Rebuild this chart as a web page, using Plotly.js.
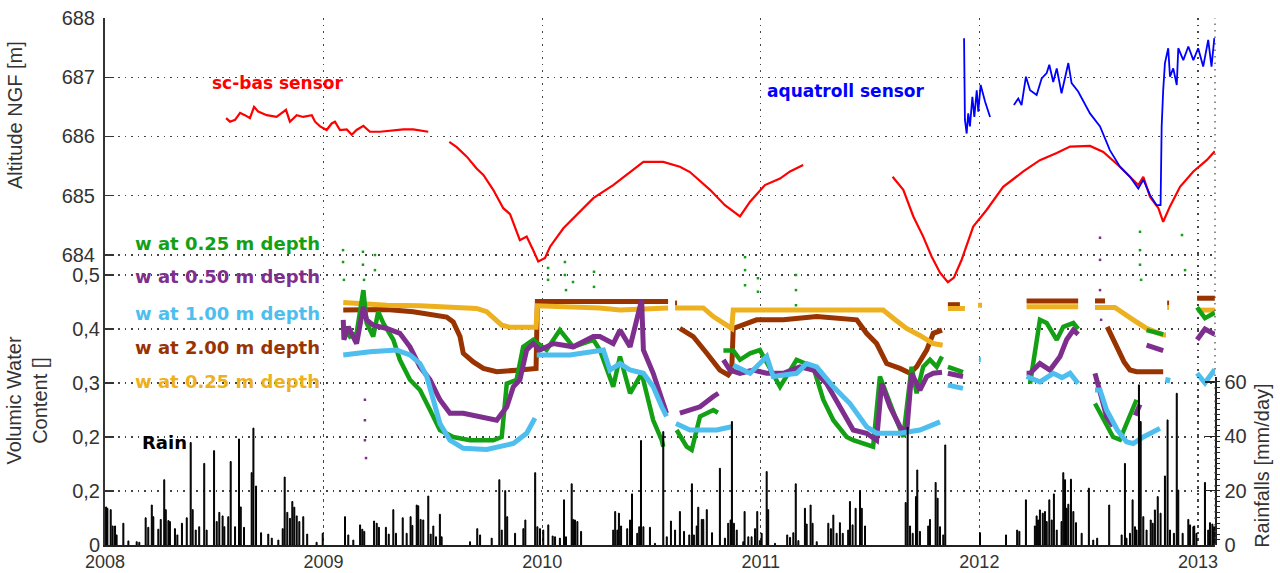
<!DOCTYPE html>
<html>
<head>
<meta charset="utf-8">
<script src="https://cdn.plot.ly/plotly-3.0.1.min.js"></script>
<style>
  html, body { margin: 0; padding: 0; background: #fff; }
  #chart { width: 1280px; height: 573px; }
</style>
</head>
<body>
<div id="chart"></div>
<script>
// ---- Groundwater altitude (m NGF), [decimal year, altitude]; null = no record ----
const scBasSensor = [
  [2008.554, 686.31], [2008.572, 686.25], [2008.595, 686.28], [2008.618, 686.40], [2008.640, 686.36],
  [2008.663, 686.31], [2008.682, 686.50], [2008.701, 686.42], [2008.740, 686.36], [2008.785, 686.33],
  [2008.828, 686.45], [2008.846, 686.25], [2008.877, 686.36], [2008.907, 686.33], [2008.946, 686.36],
  [2008.961, 686.25], [2008.984, 686.17], [2009.014, 686.11], [2009.037, 686.22], [2009.052, 686.25],
  [2009.075, 686.11], [2009.106, 686.12], [2009.129, 686.03], [2009.151, 686.11], [2009.182, 686.18],
  [2009.212, 686.08], [2009.258, 686.08], [2009.304, 686.10], [2009.365, 686.12], [2009.410, 686.12],
  [2009.456, 686.09], [2009.479, 686.08],
  null,
  [2009.575, 685.91], [2009.609, 685.82], [2009.655, 685.66], [2009.700, 685.46], [2009.731, 685.35],
  [2009.776, 685.10], [2009.822, 684.79], [2009.853, 684.69], [2009.898, 684.25], [2009.929, 684.31],
  [2009.959, 684.08], [2009.982, 683.89], [2010.013, 683.95], [2010.036, 684.14], [2010.097, 684.45],
  [2010.158, 684.68], [2010.234, 684.96], [2010.325, 685.18], [2010.409, 685.41], [2010.463, 685.57],
  [2010.554, 685.57], [2010.630, 685.49], [2010.676, 685.40], [2010.768, 685.10], [2010.836, 684.84],
  [2010.905, 684.65], [2010.951, 684.90], [2011.019, 685.18], [2011.088, 685.29], [2011.134, 685.41],
  [2011.194, 685.52],
  null,
  [2011.603, 685.32], [2011.652, 685.10], [2011.698, 684.65], [2011.743, 684.31], [2011.782, 683.97],
  [2011.820, 683.70], [2011.856, 683.54], [2011.884, 683.62], [2011.919, 683.92], [2011.972, 684.48],
  [2012.033, 684.76], [2012.109, 685.15], [2012.201, 685.41], [2012.277, 685.60], [2012.354, 685.72],
  [2012.415, 685.83], [2012.506, 685.84], [2012.567, 685.74], [2012.643, 685.49], [2012.704, 685.27],
  [2012.727, 685.18], [2012.750, 685.32], [2012.781, 684.98], [2012.819, 684.79], [2012.841, 684.56],
  [2012.872, 684.82], [2012.918, 685.15], [2012.979, 685.41], [2013.040, 685.60], [2013.077, 685.75]
];

const aquatrollSensor = [
  [2011.930, 687.66], [2011.931, 686.84], [2011.934, 686.28], [2011.942, 686.05], [2011.949, 686.39],
  [2011.957, 686.17], [2011.968, 686.67], [2011.977, 686.33], [2011.988, 686.78], [2011.995, 686.42],
  [2012.006, 686.87], [2012.026, 686.59], [2012.049, 686.33],
  null,
  [2012.158, 686.53], [2012.178, 686.64], [2012.193, 686.53], [2012.213, 687.01], [2012.232, 686.78],
  [2012.262, 686.70], [2012.285, 686.98], [2012.308, 687.07], [2012.320, 687.21], [2012.338, 686.92],
  [2012.354, 687.15], [2012.376, 686.73], [2012.407, 687.24], [2012.422, 686.90], [2012.452, 686.76],
  [2012.506, 686.39], [2012.552, 686.17], [2012.597, 685.77], [2012.643, 685.49], [2012.689, 685.32],
  [2012.727, 685.12], [2012.750, 685.27], [2012.781, 685.01], [2012.811, 684.84], [2012.829, 684.84],
  [2012.834, 686.17], [2012.841, 686.78], [2012.849, 687.24], [2012.864, 687.49], [2012.872, 687.01],
  [2012.887, 687.15], [2012.903, 686.87], [2012.910, 687.49], [2012.933, 687.29], [2012.956, 687.52],
  [2012.979, 687.29], [2013.001, 687.49], [2013.024, 687.18], [2013.047, 687.63], [2013.062, 687.18],
  [2013.075, 687.66]
];

// ---- Volumetric water content [-], [decimal year, value] ----
const vwcDepth025 = [
  [2009.090, 0.404], [2009.121, 0.386], [2009.151, 0.392], [2009.182, 0.472], [2009.197, 0.411],
  [2009.227, 0.386], [2009.250, 0.432], [2009.273, 0.411], [2009.319, 0.380], [2009.349, 0.343],
  [2009.395, 0.306], [2009.441, 0.287], [2009.487, 0.250], [2009.532, 0.213], [2009.593, 0.200],
  [2009.670, 0.194], [2009.776, 0.194], [2009.815, 0.200], [2009.838, 0.299], [2009.883, 0.306],
  [2009.913, 0.367], [2009.959, 0.380], [2010.020, 0.361], [2010.081, 0.398], [2010.142, 0.367],
  [2010.234, 0.380], [2010.264, 0.361], [2010.325, 0.293], [2010.356, 0.349], [2010.402, 0.281],
  [2010.455, 0.318], [2010.479, 0.280], [2010.508, 0.231], [2010.547, 0.194], [2010.554, 0.182],
  null,
  [2010.615, 0.213], [2010.661, 0.182], [2010.684, 0.176], [2010.722, 0.238], [2010.783, 0.250],
  [2010.804, 0.245],
  null,
  [2010.829, 0.360], [2010.874, 0.360], [2010.905, 0.343], [2010.951, 0.355], [2010.996, 0.361],
  [2011.057, 0.318], [2011.088, 0.293], [2011.164, 0.343], [2011.240, 0.330], [2011.286, 0.269],
  [2011.332, 0.231], [2011.393, 0.200], [2011.423, 0.194], [2011.514, 0.182], [2011.545, 0.312],
  [2011.621, 0.231], [2011.652, 0.200], [2011.690, 0.330], [2011.713, 0.281], [2011.743, 0.330],
  [2011.774, 0.343], [2011.805, 0.330], [2011.829, 0.349],
  null,
  [2011.856, 0.330], [2011.925, 0.320],
  null,
  [2012.232, 0.299], [2012.277, 0.417], [2012.308, 0.411], [2012.354, 0.380], [2012.384, 0.404],
  [2012.430, 0.411], [2012.452, 0.400],
  null,
  [2012.529, 0.262], [2012.582, 0.225], [2012.612, 0.200], [2012.643, 0.195], [2012.689, 0.238],
  [2012.719, 0.269],
  null,
  [2012.765, 0.398], [2012.841, 0.390],
  null,
  [2012.996, 0.440], [2013.032, 0.420], [2013.077, 0.430]
];

const vwcDepth050 = [
  [2009.090, 0.417], [2009.093, 0.380], [2009.113, 0.404], [2009.151, 0.373], [2009.182, 0.441],
  [2009.197, 0.417], [2009.227, 0.407], [2009.289, 0.401], [2009.349, 0.392], [2009.395, 0.367],
  [2009.441, 0.330], [2009.487, 0.306], [2009.532, 0.269], [2009.578, 0.244], [2009.639, 0.244],
  [2009.715, 0.238], [2009.792, 0.231], [2009.838, 0.256], [2009.868, 0.293], [2009.898, 0.306],
  [2009.929, 0.361], [2009.959, 0.373], [2009.990, 0.361], [2010.051, 0.373], [2010.142, 0.367],
  [2010.234, 0.386], [2010.264, 0.386], [2010.325, 0.373], [2010.356, 0.398], [2010.402, 0.367],
  [2010.455, 0.454], [2010.463, 0.361], [2010.508, 0.318], [2010.554, 0.262], [2010.569, 0.244],
  null,
  [2010.630, 0.244], [2010.722, 0.256], [2010.783, 0.275], [2010.806, 0.281],
  null,
  [2010.829, 0.343], [2010.859, 0.324], [2010.905, 0.318], [2010.966, 0.324], [2011.027, 0.318],
  [2011.103, 0.318], [2011.179, 0.330], [2011.240, 0.324], [2011.301, 0.299], [2011.362, 0.256],
  [2011.423, 0.213], [2011.484, 0.207], [2011.530, 0.194], [2011.553, 0.299], [2011.591, 0.256],
  [2011.637, 0.219], [2011.667, 0.207], [2011.690, 0.318], [2011.728, 0.287], [2011.759, 0.312],
  [2011.789, 0.318], [2011.829, 0.320],
  null,
  [2011.856, 0.318], [2011.925, 0.312],
  null,
  [2012.216, 0.318], [2012.232, 0.318], [2012.277, 0.336], [2012.323, 0.324], [2012.369, 0.349],
  [2012.399, 0.380], [2012.430, 0.398], [2012.452, 0.390],
  null,
  [2012.529, 0.318], [2012.552, 0.281], [2012.582, 0.238], [2012.611, 0.220],
  null,
  [2012.713, 0.240], [2012.735, 0.260],
  null,
  [2012.765, 0.370], [2012.841, 0.360],
  null,
  [2012.996, 0.380], [2013.032, 0.400], [2013.077, 0.390]
];

const vwcDepth100 = [
  [2009.090, 0.352], [2009.212, 0.358], [2009.334, 0.361], [2009.395, 0.352], [2009.441, 0.336],
  [2009.472, 0.312], [2009.502, 0.269], [2009.532, 0.225], [2009.578, 0.194], [2009.639, 0.179],
  [2009.746, 0.177], [2009.868, 0.188], [2009.929, 0.207], [2009.967, 0.235],
  null,
  [2009.975, 0.352], [2010.127, 0.352], [2010.280, 0.361], [2010.310, 0.324], [2010.356, 0.336],
  [2010.402, 0.324], [2010.463, 0.318], [2010.508, 0.293], [2010.547, 0.256], [2010.569, 0.238],
  null,
  [2010.612, 0.225], [2010.676, 0.213], [2010.798, 0.213], [2010.867, 0.219],
  null,
  [2010.874, 0.333], [2010.951, 0.318], [2011.027, 0.349], [2011.057, 0.312], [2011.164, 0.318],
  [2011.210, 0.336], [2011.256, 0.330], [2011.332, 0.293], [2011.408, 0.262], [2011.484, 0.219],
  [2011.530, 0.207], [2011.637, 0.207], [2011.728, 0.213], [2011.820, 0.228],
  null,
  [2011.856, 0.296], [2011.925, 0.290],
  null,
  [2011.998, 0.343], [2012.007, 0.343],
  null,
  [2012.216, 0.312], [2012.277, 0.302], [2012.338, 0.318], [2012.378, 0.310], [2012.415, 0.318],
  [2012.452, 0.299],
  null,
  [2012.529, 0.287], [2012.552, 0.287], [2012.582, 0.250], [2012.631, 0.213], [2012.673, 0.191],
  [2012.704, 0.188], [2012.750, 0.200], [2012.826, 0.216],
  null,
  [2012.859, 0.300], [2012.864, 0.310],
  null,
  [2012.996, 0.318], [2013.032, 0.300], [2013.077, 0.325]
];

const vwcDepth200 = [
  [2009.090, 0.435], [2009.289, 0.436], [2009.410, 0.432], [2009.487, 0.426], [2009.563, 0.422],
  [2009.593, 0.413], [2009.624, 0.386], [2009.639, 0.355], [2009.685, 0.339], [2009.731, 0.327],
  [2009.792, 0.321], [2009.898, 0.324], [2009.972, 0.327], [2009.978, 0.451], [2010.356, 0.451],
  [2010.576, 0.451],
  null,
  [2010.608, 0.448], [2010.617, 0.448],
  null,
  [2010.630, 0.401], [2010.691, 0.386], [2010.753, 0.355], [2010.813, 0.324], [2010.851, 0.315],
  [2010.867, 0.324], [2010.874, 0.401], [2010.981, 0.417], [2011.103, 0.417], [2011.256, 0.423],
  [2011.439, 0.417], [2011.484, 0.392], [2011.530, 0.373], [2011.576, 0.336], [2011.637, 0.327],
  [2011.683, 0.318], [2011.713, 0.330], [2011.759, 0.361], [2011.789, 0.392], [2011.829, 0.398],
  null,
  [2011.856, 0.445], [2011.911, 0.445],
  null,
  [2012.216, 0.452], [2012.452, 0.452],
  null,
  [2012.529, 0.452], [2012.575, 0.452],
  null,
  [2012.585, 0.404], [2012.631, 0.367], [2012.662, 0.339], [2012.689, 0.324], [2012.719, 0.321],
  [2012.841, 0.321],
  null,
  [2012.859, 0.448], [2012.868, 0.448],
  null,
  [2012.996, 0.457], [2013.077, 0.457]
];

const vwcDepth025b = [
  [2009.090, 0.449], [2009.289, 0.444], [2009.441, 0.443], [2009.592, 0.441], [2009.700, 0.438],
  [2009.746, 0.432], [2009.776, 0.420], [2009.815, 0.407], [2009.853, 0.403], [2009.959, 0.403],
  [2009.972, 0.403], [2009.978, 0.443], [2010.264, 0.439], [2010.356, 0.435], [2010.576, 0.439],
  null,
  [2010.608, 0.439], [2010.737, 0.439], [2010.783, 0.423], [2010.829, 0.411], [2010.867, 0.401],
  [2010.874, 0.435], [2011.560, 0.435], [2011.606, 0.420], [2011.667, 0.401], [2011.728, 0.388],
  [2011.789, 0.373], [2011.832, 0.370],
  null,
  [2011.856, 0.438], [2011.934, 0.438],
  null,
  [2011.994, 0.444], [2012.012, 0.444],
  null,
  [2012.216, 0.441], [2012.452, 0.441],
  null,
  [2012.529, 0.440], [2012.620, 0.440], [2012.704, 0.417], [2012.765, 0.401], [2012.841, 0.389],
  [2012.854, 0.389],
  null,
  [2012.859, 0.440], [2012.868, 0.440],
  null,
  [2012.996, 0.435], [2013.077, 0.435]
];

// isolated readings standing apart from the main records
const vwcDepth025Outliers = [
  [2009.089, 0.546], [2009.089, 0.524], [2009.093, 0.491], [2009.180, 0.543], [2009.180, 0.519],
  [2009.185, 0.491], [2009.235, 0.537], [2009.235, 0.509], [2010.027, 0.513], [2010.027, 0.491],
  [2010.104, 0.524], [2010.104, 0.500], [2010.109, 0.472], [2010.141, 0.487], [2010.237, 0.506],
  [2010.237, 0.478], [2010.928, 0.533], [2010.928, 0.509], [2010.928, 0.481], [2010.987, 0.494],
  [2010.987, 0.469], [2011.161, 0.500], [2011.161, 0.472], [2011.161, 0.444], [2012.735, 0.580],
  [2012.735, 0.546], [2012.735, 0.519], [2012.740, 0.491], [2012.927, 0.574], [2012.941, 0.509]
];
const vwcDepth050Outliers = [
  [2009.189, 0.269], [2009.189, 0.231], [2009.189, 0.194], [2009.194, 0.161],
  [2012.552, 0.569], [2012.552, 0.528], [2012.552, 0.472], [2012.557, 0.417]
];

// ---- Daily rainfall (mm/day), [decimal year, depth] ----
const rainfall = [
  [2008.005, 14], [2008.011, 13.5], [2008.026, 13], [2008.035, 7], [2008.046, 7], [2008.053, 3.7],
  [2008.084, 8], [2008.107, 1.5], [2008.145, 1.2], [2008.157, 1], [2008.186, 10], [2008.198, 6.5],
  [2008.214, 14.7], [2008.221, 10.4], [2008.244, 5.8], [2008.255, 9.4], [2008.271, 24], [2008.278, 13],
  [2008.290, 9], [2008.297, 8.6], [2008.320, 6], [2008.331, 3.7], [2008.352, 8], [2008.374, 10],
  [2008.392, 37.7], [2008.401, 13], [2008.415, 5.5], [2008.431, 6.7], [2008.454, 30], [2008.465, 5.5],
  [2008.499, 34.7], [2008.511, 8.6], [2008.523, 12], [2008.538, 10.7], [2008.546, 6.7], [2008.564, 10.4],
  [2008.575, 30.7], [2008.595, 6.7], [2008.613, 39], [2008.621, 14], [2008.636, 6.5], [2008.671, 26.6],
  [2008.679, 43], [2008.691, 21.7], [2008.714, 4.5], [2008.747, 4], [2008.763, 2.5], [2008.793, 1.8],
  [2008.813, 6], [2008.822, 25], [2008.834, 12], [2008.846, 9.8], [2008.857, 16], [2008.866, 13.9],
  [2008.877, 10.7], [2008.889, 8.6], [2008.907, 10.4], [2008.925, 4], [2008.968, 1], [2008.996, 4.3],
  [2009.098, 10.4], [2009.113, 3.7], [2009.136, 1.8], [2009.167, 7.4], [2009.177, 5.8], [2009.186, 5],
  [2009.231, 8.8], [2009.243, 8], [2009.253, 6.5], [2009.285, 6.5], [2009.298, 4], [2009.319, 13],
  [2009.331, 4.3], [2009.362, 10], [2009.380, 4.3], [2009.398, 10.4], [2009.406, 7.2], [2009.426, 14.7],
  [2009.433, 14.4], [2009.444, 9.4], [2009.456, 9.2], [2009.479, 18], [2009.490, 4], [2009.502, 7],
  [2009.514, 3], [2009.532, 11.3], [2009.540, 3], [2009.670, 1.2], [2009.703, 6], [2009.716, 3.7],
  [2009.769, 2.5], [2009.804, 24], [2009.815, 5.5], [2009.831, 20], [2009.840, 10.4], [2009.876, 4.3],
  [2009.914, 6], [2009.923, 9.2], [2009.968, 26.6], [2009.978, 6.7], [2009.990, 6], [2010.005, 5.5],
  [2010.028, 7.4], [2010.048, 3.3], [2010.059, 3], [2010.081, 2.5], [2010.100, 16.6], [2010.109, 3],
  [2010.135, 22.5], [2010.142, 9.4], [2010.150, 9.2], [2010.161, 8.6], [2010.178, 5], [2010.325, 5.5],
  [2010.334, 12.3], [2010.344, 5.5], [2010.351, 11.7], [2010.361, 7], [2010.389, 6], [2010.402, 9.2],
  [2010.411, 18.8], [2010.435, 4.3], [2010.444, 6.7], [2010.452, 38.4], [2010.463, 6.7], [2010.493, 6.5],
  [2010.516, 0.6], [2010.554, 41.7], [2010.570, 3], [2010.589, 8.8], [2010.608, 5.5], [2010.630, 12.3],
  [2010.649, 5], [2010.673, 3.7], [2010.685, 22.5], [2010.694, 3.7], [2010.707, 7], [2010.714, 13.9],
  [2010.730, 9.4], [2010.737, 9.4], [2010.753, 13], [2010.777, 4.5], [2010.813, 28.2], [2010.836, 2.5],
  [2010.851, 8], [2010.862, 9.2], [2010.868, 45.4], [2010.877, 8], [2010.890, 5.5], [2010.920, 1.2],
  [2010.926, 12.3], [2010.943, 3], [2010.958, 3], [2010.974, 6], [2010.984, 12.3], [2010.996, 1.6],
  [2011.004, 4.3], [2011.027, 27], [2011.034, 13], [2011.065, 0.6], [2011.121, 3.7], [2011.134, 2.8],
  [2011.149, 4.5], [2011.160, 22.5], [2011.172, 1.6], [2011.202, 13.5], [2011.210, 7.7], [2011.228, 14.7],
  [2011.237, 8], [2011.256, 1.2], [2011.309, 8], [2011.321, 6], [2011.332, 11], [2011.347, 4.3],
  [2011.362, 8.2], [2011.375, 4.3], [2011.400, 5.5], [2011.408, 16], [2011.420, 7.4], [2011.434, 13.5],
  [2011.454, 20], [2011.462, 13.5], [2011.477, 7], [2011.663, 15.6], [2011.672, 43.3], [2011.683, 7],
  [2011.695, 4.3], [2011.710, 17.8], [2011.716, 27.6], [2011.728, 5], [2011.766, 7], [2011.774, 9.4],
  [2011.800, 23], [2011.809, 17.2], [2011.820, 6.7], [2011.835, 3.7], [2011.844, 36.8], [2012.003, 4.5],
  [2012.122, 3.7], [2012.173, 5.5], [2012.183, 5], [2012.213, 16.6], [2012.254, 7], [2012.262, 10.7],
  [2012.269, 9.2], [2012.277, 12.9], [2012.290, 11.7], [2012.300, 12.3], [2012.308, 8.6], [2012.320, 16.6],
  [2012.331, 9.2], [2012.341, 18.8], [2012.354, 5.5], [2012.376, 8.6], [2012.384, 26.6], [2012.392, 24],
  [2012.399, 13.5], [2012.407, 15], [2012.419, 24.2], [2012.430, 12.3], [2012.442, 8.2], [2012.468, 4.3],
  [2012.501, 20.9], [2012.521, 1.8], [2012.539, 2.5], [2012.594, 14.7], [2012.651, 3.7], [2012.666, 30],
  [2012.673, 2.5], [2012.689, 4.3], [2012.701, 16.6], [2012.712, 6.7], [2012.719, 5.5], [2012.730, 58.9],
  [2012.738, 45.4], [2012.750, 10.4], [2012.765, 5.5], [2012.784, 9.2], [2012.793, 8], [2012.803, 12.9],
  [2012.816, 17.8], [2012.829, 11.7], [2012.849, 25.4], [2012.861, 46], [2012.872, 5.5], [2012.890, 4.3],
  [2012.903, 55.8], [2012.910, 20.2], [2012.930, 4.3], [2012.956, 9.4], [2012.964, 7.4], [2012.979, 6.7],
  [2012.983, 7], [2012.993, 4.3], [2013.032, 23], [2013.047, 5.5], [2013.055, 8.2], [2013.066, 7.7],
  [2013.074, 6.7]
];

// ---- Axis ticks ----
const yearTicks = [2008, 2009, 2010, 2011, 2012, 2013];
const altitudeTicks = [684, 685, 686, 687, 688];
const vwcTicks = [0, 0.1, 0.2, 0.3, 0.4, 0.5];
const vwcTickText = ['0', '0,2', '0,2', '0,3', '0,4', '0,5'];
const rainTicks = [0, 20, 40, 60];

// ---- Styling ----
const TICK_FONT = 'Liberation Sans Narrow, Arial Narrow, Liberation Sans, Arial, sans-serif';
const LABEL_FONT = 'DejaVu Sans, Verdana, sans-serif';
const GRID = { showgrid: true, gridcolor: '#444', gridwidth: 1.2, griddash: '1.5px,5px' };
const COLORS = {
  scBas: '#ff0000', aquatroll: '#0000ff',
  d025: '#14a014', d050: '#7e2f8e', d100: '#4dbeee', d200: '#993300', d025b: '#edb120'
};

function columns(pairs) {
  const x = [], y = [];
  pairs.forEach(p => {
    if (p === null) { x.push(null); y.push(null); }
    else { x.push(p[0]); y.push(p[1]); }
  });
  return { x, y };
}

function lineTrace(pairs, color, width, yaxis) {
  const c = columns(pairs);
  return {
    type: 'scatter', mode: 'lines', x: c.x, y: c.y, yaxis: yaxis,
    line: { color: color, width: width, shape: 'linear' },
    connectgaps: false, hoverinfo: 'skip'
  };
}

function dotTrace(pairs, color, size, yaxis) {
  const c = columns(pairs);
  return {
    type: 'scatter', mode: 'markers', x: c.x, y: c.y, yaxis: yaxis,
    marker: { color: color, size: size, symbol: 'square' }, hoverinfo: 'skip'
  };
}

const rain = columns(rainfall);

const traces = [
  {
    type: 'bar', x: rain.x, y: rain.y, yaxis: 'y3', width: 0.0045,
    marker: { color: '#000', line: { color: '#000', width: 1 } }, hoverinfo: 'skip'
  },
  lineTrace(vwcDepth200, COLORS.d200, 5, 'y2'),
  lineTrace(vwcDepth025b, COLORS.d025b, 5, 'y2'),
  lineTrace(vwcDepth025, COLORS.d025, 4.5, 'y2'),
  lineTrace(vwcDepth050, COLORS.d050, 5, 'y2'),
  lineTrace(vwcDepth100, COLORS.d100, 5, 'y2'),
  dotTrace(vwcDepth025Outliers, COLORS.d025, 2.5, 'y2'),
  dotTrace(vwcDepth050Outliers, COLORS.d050, 2.5, 'y2'),
  lineTrace(scBasSensor, COLORS.scBas, 2.2, 'y'),
  lineTrace(aquatrollSensor, COLORS.aquatroll, 1.8, 'y')
];

function note(text, x, y, font, extra) {
  return Object.assign({
    text: text, x: x, y: y, xref: 'paper', yref: 'paper', showarrow: false,
    xanchor: 'center', yanchor: 'middle', font: font
  }, extra || {});
}
const boldFont = (size, color) => ({ family: LABEL_FONT, size: size, color: color, weight: 'bold' });
const plainFont = { family: TICK_FONT, size: 20, color: '#333' };

const layout = {
  width: 1280, height: 573,
  margin: { l: 105, r: 65, t: 18, b: 28 },
  paper_bgcolor: '#fff', plot_bgcolor: 'rgba(0,0,0,0)',
  showlegend: false,
  font: { family: TICK_FONT, size: 20, color: '#333' },
  bargap: 0,
  xaxis: Object.assign({
    range: [2008, 2013.078], tickvals: yearTicks, ticktext: yearTicks.map(String),
    showline: true, linecolor: '#222', linewidth: 1.5, ticks: '', zeroline: false,
    ticklabelstandoff: 0,
    tickfont: { family: TICK_FONT, size: 18, color: '#333' }
  }, GRID),
  yaxis: Object.assign({
    range: [679.105, 688], tickvals: altitudeTicks,
    showline: true, linecolor: '#333', linewidth: 2,
    ticks: 'inside', ticklen: 9, tickwidth: 1.5, tickcolor: '#333',
    zeroline: false, ticklabelstandoff: 4,
    tickfont: { family: TICK_FONT, size: 20, color: '#333' }
  }, GRID),
  yaxis2: Object.assign({
    overlaying: 'y', side: 'left', range: [0, 0.9759],
    tickvals: vwcTicks, ticktext: vwcTickText,
    showline: false, ticks: 'inside', ticklen: 9, tickwidth: 1.5, tickcolor: '#333',
    zeroline: false, ticklabelstandoff: 4,
    tickfont: { family: TICK_FONT, size: 20, color: '#333' }
  }, GRID),
  yaxis3: {
    domain: [0, 0.3188], anchor: 'x', side: 'right', range: [0, 61.8],
    tickvals: rainTicks, showgrid: false, zeroline: false,
    showline: true, linecolor: '#222', linewidth: 1.5,
    ticks: 'inside', ticklen: 10, tickwidth: 1.5, tickcolor: '#222',
    minor: { dtick: 2, ticks: 'outside', ticklen: 3, tickcolor: '#222', tickwidth: 1, showgrid: false },
    ticklabelstandoff: 4,
    tickfont: { family: TICK_FONT, size: 20, color: '#333' }
  },
  shapes: [
    { type: 'line', xref: 'paper', yref: 'paper', x0: 1, x1: 1, y0: 0, y1: 1,
      line: { color: '#444', width: 1.2, dash: '1.5px,5px' } }
  ],
  annotations: [
    note('sc-bas sensor', 0.155, 0.877, boldFont(17, COLORS.scBas)),
    note('aquatroll sensor', 0.668, 0.861, boldFont(17, COLORS.aquatroll)),
    note('w at 0.25 m depth', 0.0252, 0.573, boldFont(18, COLORS.d025), { xanchor: 'left' }),
    note('w at 0.50 m depth', 0.0252, 0.509, boldFont(18, COLORS.d050), { xanchor: 'left' }),
    note('w at 1.00 m depth', 0.0252, 0.440, boldFont(18, COLORS.d100), { xanchor: 'left' }),
    note('w at 2.00 m depth', 0.0252, 0.374, boldFont(18, COLORS.d200), { xanchor: 'left' }),
    note('w at 0.25 m depth', 0.0252, 0.311, boldFont(18, COLORS.d025b), { xanchor: 'left' }),
    note('Rain', 0.0315, 0.195, boldFont(18, '#000'), { xanchor: 'left' }),
    note('Altitude NGF [m]', -0.081, 0.816, plainFont, { textangle: -90 }),
    note('Volumic Water<br>Content []', -0.0698, 0.275, plainFont, { textangle: -90 }),
    note('Rainfalls [mm/day]', 1.0423, 0.152, plainFont, { textangle: -90 })
  ]
};

Plotly.newPlot('chart', traces, layout, { staticPlot: true, displayModeBar: false });
</script>
</body>
</html>
